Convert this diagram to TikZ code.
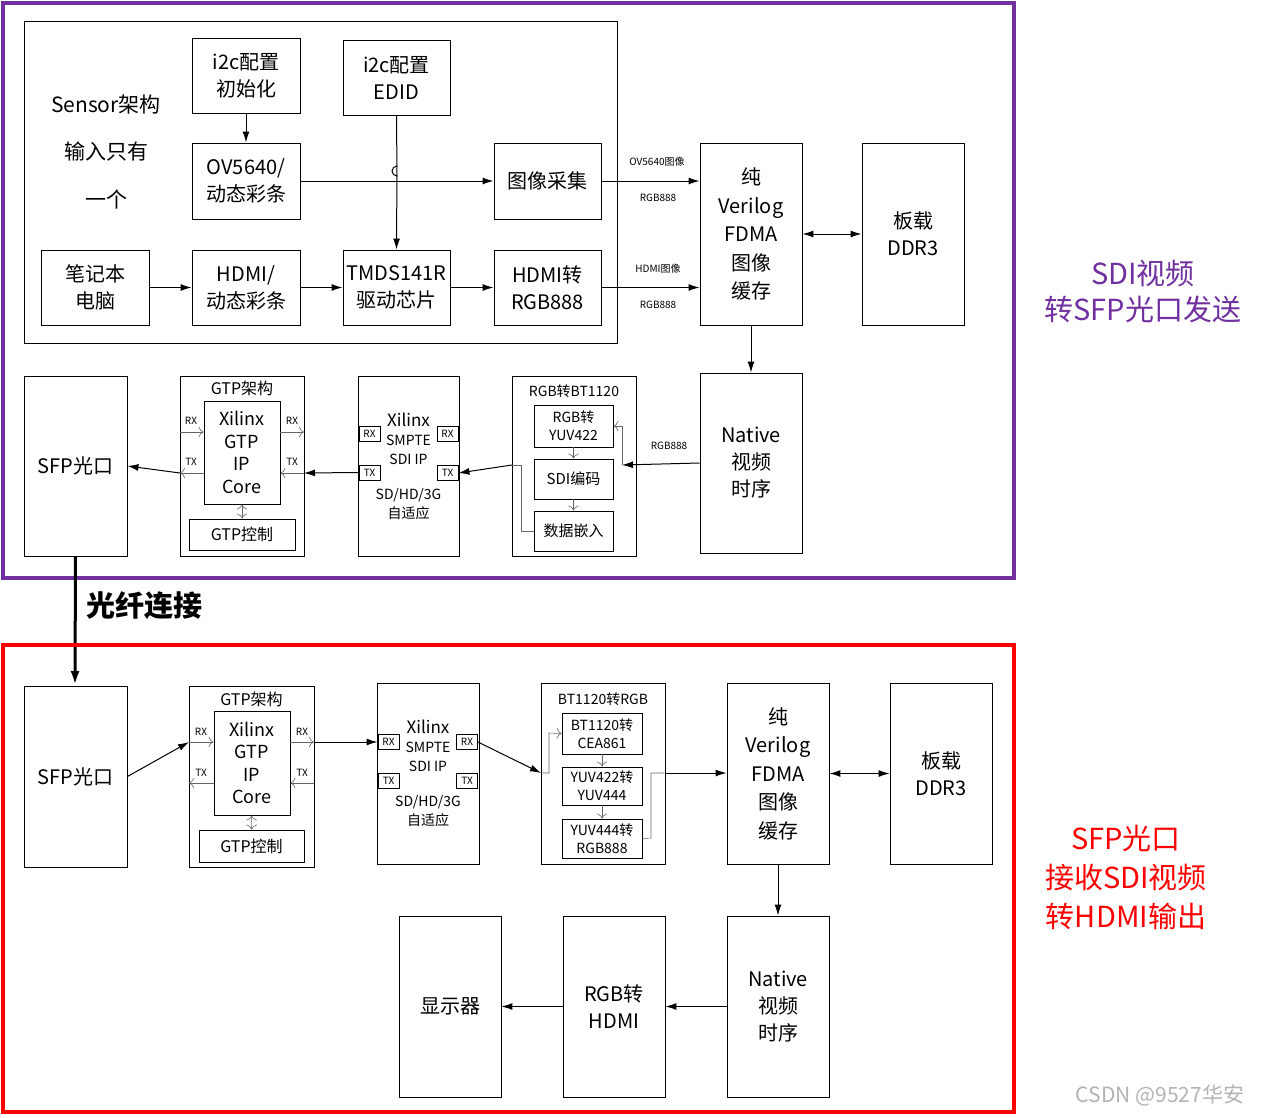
\documentclass[tikz,border=0pt]{standalone}
\usepackage{fontspec}
\setmainfont{Noto Sans CJK SC}
\usetikzlibrary{arrows.meta}
\definecolor{sendpurple}{RGB}{112,48,160}
\tikzset{
  blk/.style={draw, line width=0.9pt, align=center, inner sep=0pt, font=\fontsize{20}{27}\selectfont},
  grp/.style={draw, line width=0.9pt, inner sep=0pt},
  port/.style={draw, line width=0.9pt, inner sep=0pt, minimum width=21pt, minimum height=15pt, font=\fontsize{10}{11}\selectfont},
  lbl/.style={inner sep=0pt, font=\fontsize{10}{12}\selectfont},
  main/.style={line width=1pt, -{Latex[length=11pt,width=7pt]}},
  thin/.style={line width=0.6pt, gray!80!black, -{To[length=5pt]}},
}
\begin{document}
\begin{tikzpicture}[x=1pt, y=-1pt]
\useasboundingbox (0,0) rectangle (1264,1117);
% sending side
\draw [sendpurple, line width=4pt] (3,3) rectangle (1014,578);
\node (sensor) [grp, minimum width=593pt, minimum height=322pt] at (320.5,182) {};
\node [lbl, font=\fontsize{21}{24}\selectfont] at (106,105) {Sensor架构};
\node [lbl, font=\fontsize{21}{24}\selectfont] at (106,152) {输入只有};
\node [lbl, font=\fontsize{21}{24}\selectfont] at (106,199) {一个};
\node (init) [blk, minimum width=108pt, minimum height=75pt] at (246,75.5) {i2c配置\\初始化};
\node (edid) [blk, minimum width=107pt, minimum height=75pt] at (396.5,77.5) {i2c配置\\EDID};
\node (ov) [blk, minimum width=108pt, minimum height=76pt] at (246,181) {OV5640/\\动态彩条};
\node (cap) [blk, minimum width=107pt, minimum height=76pt] at (547.5,181) {图像采集};
\node (pc) [blk, minimum width=108pt, minimum height=75pt] at (95,287.5) {笔记本\\电脑};
\node (hdmi) [blk, minimum width=108pt, minimum height=75pt] at (246,287.5) {HDMI/\\动态彩条};
\node (tmds) [blk, minimum width=107pt, minimum height=75pt] at (396.5,287.5) {TMDS141R\\驱动芯片};
\node (h2rgb) [blk, minimum width=107pt, minimum height=75pt] at (547.5,287.5) {HDMI转\\RGB888};
\node (fdmaA) [blk, minimum width=102pt, minimum height=182pt, font=\fontsize{20}{28.5}\selectfont] at (751,234) {纯\\Verilog\\FDMA\\图像\\缓存};
\node (ddrA) [blk, minimum width=102pt, minimum height=182pt] at (913,234) {板载\\DDR3};
\node (natA) [blk, minimum width=102pt, minimum height=180pt] at (751,463) {Native\\视频\\时序};
\node (sfpA) [blk, minimum width=103pt, minimum height=180pt] at (75.5,466) {SFP光口};
\node (gtpA) [grp, minimum width=124pt, minimum height=180pt] at (242,466) {};
\node [lbl, font=\fontsize{16}{17}\selectfont] at (242,388) {GTP架构};
\node (coreA) [blk, minimum width=76pt, minimum height=103pt, font=\fontsize{18}{22.5}\selectfont] at (242,452.5) {Xilinx\\GTP\\IP\\Core};
\node (ctlA) [blk, minimum width=106pt, minimum height=31pt, font=\fontsize{16}{17}\selectfont] at (242,534.5) {GTP控制};
\node (sdiA) [blk, minimum width=101pt, minimum height=180pt, font=\fontsize{14}{19}\selectfont] at (408.5,466) {\fontsize{17}{20}\selectfont Xilinx\\SMPTE\\SDI IP\\[16pt]SD/HD/3G\\自适应};
\node (rxAl) [port] at (369.5,433.5) {RX};
\node (rxAr) [port] at (447.5,433.5) {RX};
\node (txAl) [port] at (369.5,472.5) {TX};
\node (txAr) [port] at (447.5,473) {TX};
\node (encA) [grp, minimum width=124pt, minimum height=180pt] at (574,466) {};
\node [lbl, font=\fontsize{14}{15}\selectfont] at (574,391) {RGB转BT1120};
\node (yuvA) [blk, minimum width=79pt, minimum height=42pt, font=\fontsize{14}{18}\selectfont] at (573.5,426) {RGB转\\YUV422};
\node (sdienc) [blk, minimum width=79pt, minimum height=40pt, font=\fontsize{15}{18}\selectfont] at (573.5,479) {SDI编码};
\node (embed) [blk, minimum width=79pt, minimum height=40pt, font=\fontsize{15}{18}\selectfont] at (573.5,531) {数据嵌入};
\node [lbl] at (657,162) {OV5640图像};
\node [lbl] at (658,198) {RGB888};
\node [lbl] at (658,269) {HDMI图像};
\node [lbl] at (658,305) {RGB888};
\node [lbl] at (669,446) {RGB888};
\node [text=sendpurple, align=center, font=\fontsize{29}{36}\selectfont] at (1143,292) {SDI视频\\转SFP光口发送};
\draw [main] (init) -- (ov);
\draw [main] (edid.south) -- (397,176) arc (-90:90:-5) -- (tmds.north);
\draw [main] (ov) -- (cap);
\draw [main] (pc) -- (hdmi);
\draw [main] (hdmi) -- (tmds);
\draw [main] (tmds) -- (h2rgb);
\draw [main] (cap.east) -- (fdmaA.west |- cap.east);
\draw [main] (h2rgb.east) -- (fdmaA.west |- h2rgb.east);
\draw [main, {Latex[length=11pt,width=7pt]}-{Latex[length=11pt,width=7pt]}] (fdmaA) -- (ddrA);
\draw [main] (fdmaA) -- (natA);
\draw [main] (natA.west |- 0,463) -- (622,465);
\draw [thin] (622,465) -- (622,426) -- (yuvA.east);
\draw [thin] (yuvA) -- (sdienc);
\draw [thin] (sdienc) -- (embed);
\draw [thin, -] (embed.west) -- (521,531) -- (521,465) -- (512,465);
\draw [main] (512,465) -- (txAr.east);
\draw [main] (txAl.west) -- (304,473);
\draw [thin] (304,473) -- (coreA.east |- 0,473);
\draw [thin] (coreA.east |- 0,432) -- (304,432);
\draw [thin] (180,432) -- (coreA.west |- 0,432);
\draw [thin] (coreA.west |- 0,473) -- (180,473);
\draw [main] (180,473) -- (sfpA.east);
\draw [thin, {To[length=5pt]}-{To[length=5pt]}] (coreA) -- (ctlA);
\node [lbl] at (191,421) {RX}; \node [lbl] at (292,421) {RX};
\node [lbl] at (191,462) {TX}; \node [lbl] at (292,462) {TX};
% fibre link
\draw [line width=3pt, -{Latex[length=14pt,width=9pt]}] (sfpA.south) -- (75,685);
\node (fibre) [lbl, anchor=west, font=\fontsize{29}{32}\selectfont\bfseries] at (86,606) {光纤连接};
% receiving side
\draw [red, line width=4pt] (3,645) rectangle (1014,1112);
\node (sfpB) [blk, minimum width=103pt, minimum height=181pt] at (75.5,776.5) {SFP光口};
\node (gtpB) [grp, minimum width=125pt, minimum height=181pt] at (251.5,776.5) {};
\node [lbl, font=\fontsize{16}{17}\selectfont] at (251.5,699) {GTP架构};
\node (coreB) [blk, minimum width=76pt, minimum height=104pt, font=\fontsize{18}{22.5}\selectfont] at (252,763) {Xilinx\\GTP\\IP\\Core};
\node (ctlB) [blk, minimum width=105pt, minimum height=32pt, font=\fontsize{16}{17}\selectfont] at (251.5,846) {GTP控制};
\node (sdiB) [blk, minimum width=102pt, minimum height=181pt, font=\fontsize{14}{19}\selectfont] at (428,773.5) {\fontsize{17}{20}\selectfont Xilinx\\SMPTE\\SDI IP\\[16pt]SD/HD/3G\\自适应};
\node (rxBl) [port] at (388.5,742) {RX};
\node (rxBr) [port] at (467,742) {RX};
\node (txBl) [port] at (388.5,780.5) {TX};
\node (txBr) [port] at (467,780.5) {TX};
\node (decB) [grp, minimum width=124pt, minimum height=181pt] at (603,773.5) {};
\node [lbl, font=\fontsize{14}{15}\selectfont] at (603,699) {BT1120转RGB};
\node (ceaB) [blk, minimum width=80pt, minimum height=41pt, font=\fontsize{14}{18}\selectfont] at (602,733.5) {BT1120转\\CEA861};
\node (y444B) [blk, minimum width=80pt, minimum height=38pt, font=\fontsize{14}{18}\selectfont] at (602,786) {YUV422转\\YUV444};
\node (rgbB) [blk, minimum width=80pt, minimum height=39pt, font=\fontsize{14}{18}\selectfont] at (602,838.5) {YUV444转\\RGB888};
\node (fdmaB) [blk, minimum width=102pt, minimum height=181pt, font=\fontsize{20}{28.5}\selectfont] at (778,773.5) {纯\\Verilog\\FDMA\\图像\\缓存};
\node (ddrB) [blk, minimum width=102pt, minimum height=181pt] at (941,773.5) {板载\\DDR3};
\node (natB) [blk, minimum width=102pt, minimum height=181pt] at (778,1006.5) {Native\\视频\\时序};
\node (hdmiB) [blk, minimum width=102pt, minimum height=181pt] at (614,1006.5) {RGB转\\HDMI};
\node (disp) [blk, minimum width=102pt, minimum height=181pt] at (450,1006.5) {显示器};
\node [text=red, align=center, font=\fontsize{29}{39}\selectfont] at (1126,877) {SFP光口\\接收SDI视频\\转HDMI输出};
\draw [main] (sfpB.east) -- (189,742);
\draw [thin] (189,742) -- (coreB.west |- 0,742);
\draw [thin] (coreB.east |- 0,742) -- (314,742);
\draw [main] (314,742) -- (rxBl.west);
\draw [thin] (314,783) -- (coreB.east |- 0,783);
\draw [thin] (coreB.west |- 0,783) -- (189,783);
\draw [thin, {To[length=5pt]}-{To[length=5pt]}] (coreB) -- (ctlB);
\node [lbl] at (201,732) {RX}; \node [lbl] at (302,732) {RX};
\node [lbl] at (201,773) {TX}; \node [lbl] at (302,773) {TX};
\draw [main] (rxBr.east) -- (541,773);
\draw [thin] (541,773) -- (549,773) -- (549,733) -- (ceaB.west);
\draw [thin] (ceaB) -- (y444B);
\draw [thin] (y444B) -- (rgbB);
\draw [thin, -] (rgbB.east) -- (651,838) -- (651,773) -- (665,773);
\draw [main] (665,773) -- (fdmaB.west |- 0,773);
\draw [main, {Latex[length=11pt,width=7pt]}-{Latex[length=11pt,width=7pt]}] (fdmaB) -- (ddrB);
\draw [main] (fdmaB) -- (natB);
\draw [main] (natB) -- (hdmiB);
\draw [main] (hdmiB) -- (disp);
\node [text=gray!60, font=\fontsize{21}{24}\selectfont] at (1160,1095) {CSDN @9527华安};
\end{tikzpicture}
\end{document}
